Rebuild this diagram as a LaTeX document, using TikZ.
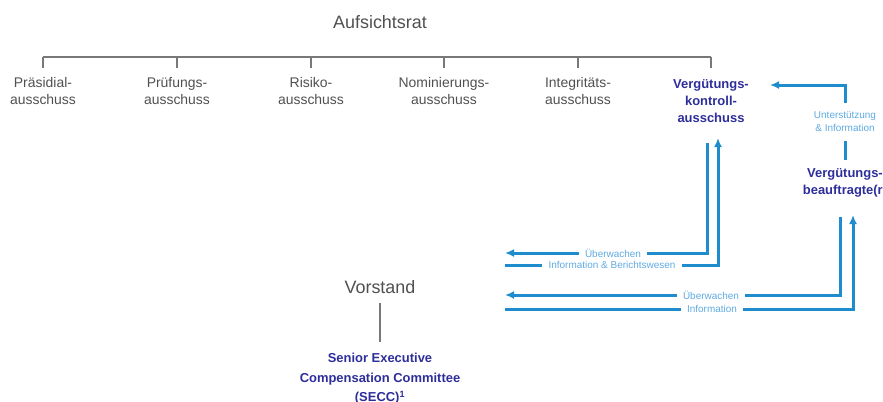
\documentclass[tikz,border=0pt]{standalone}
\usepackage{fontspec}
\setmainfont{Liberation Sans}
\usetikzlibrary{arrows.meta}

\definecolor{grautext}{RGB}{80,80,80}
\definecolor{linie}{RGB}{120,120,120}
\definecolor{pfeil}{RGB}{30,140,205}
\definecolor{hellblau}{RGB}{95,170,225}
\definecolor{dunkelblau}{RGB}{45,45,155}

\tikzset{
  gremium/.style={align=center, text=grautext, inner sep=0pt, outer ysep=9.5bp, font=\fontsize{14}{17}\selectfont},
  organ/.style={text=grautext, font=\fontsize{18}{20}\selectfont},
  blaugremium/.style={align=center, text=dunkelblau, font=\bfseries\fontsize{13}{17}\selectfont},
  hinweis/.style={align=center, text=hellblau, inner xsep=6bp, inner ysep=1bp, font=\fontsize{10}{13}\selectfont},
  baum/.style={draw=linie, line width=1.2bp},
  fluss/.style={draw=pfeil, line width=3bp},
  spitze/.style={fluss, -{Latex[length=9bp,width=8bp]}},
}

\begin{document}
\begin{tikzpicture}[x=1bp,y=-1bp]
        \useasboundingbox (0,0) rectangle (883,401);
        \clip (0,0) rectangle (883,401);

        \node[organ] (ar) at (380,22) {Aufsichtsrat};
        \coordinate (bar) at (43,57);
        \node[gremium,anchor=north] (praes) at (43,68) {Präsidial-\\ausschuss};
        \node[gremium,anchor=north] (pruef) at (177,68) {Prüfungs-\\ausschuss};
        \node[gremium,anchor=north] (risiko) at (311,68) {Risiko-\\ausschuss};
        \node[gremium,anchor=north] (nomin) at (444,68) {Nominierungs-\\ausschuss};
        \node[gremium,anchor=north] (integ) at (578,68) {Integritäts-\\ausschuss};
        \node[blaugremium,anchor=north,inner sep=0pt,outer ysep=12bp] (verg) at (711,68) {Vergütungs-\\kontroll-\\ausschuss};

        \draw[baum] (praes.north |- bar) -- (verg.north |- bar);
        \foreach \g in {praes,pruef,risiko,nomin,integ,verg}
          \draw[baum] (\g.north) -- (\g.north |- bar);

        \node[hinweis,outer ysep=8bp] (unt) at (845,122) {Unterstützung\\\& Information};
        \node[blaugremium,outer ysep=5bp] (vb) at (845,183) {Vergütungs-\\beauftragte(r)};
        \coordinate (vkein) at (770,85);
        \draw[spitze] (unt) |- (vkein);
        \draw[fluss] (unt) -- (vb);

        \coordinate (vk-a) at (707,143);
        \coordinate (vk-b) at (718,138);
        \coordinate (vb-a) at (840,217);
        \coordinate (vb-b) at (853,215);
        \coordinate (vs-a) at (505,253);
        \coordinate (vs-b) at (505,265);
        \coordinate (vs-c) at (505,295);
        \coordinate (vs-d) at (505,309);

        \node[hinweis] (ue1) at (613,253) {Überwachen};
        \node[hinweis] (ib) at (612,265) {Information \& Berichtswesen};
        \node[hinweis] (ue2) at (711,295) {Überwachen};
        \node[hinweis] (inf) at (712,309) {Information};

        \draw[spitze] (vk-a) |- (ue1) -- (vs-a);
        \draw[spitze] (vs-b) -- (ib) -| (vk-b);
        \draw[spitze] (vb-a) |- (ue2) -- (vs-c);
        \draw[spitze] (vs-d) -- (inf) -| (vb-b);

        \node[organ] (vst) at (380,287) {Vorstand};
        \node[blaugremium,anchor=north,font=\bfseries\fontsize{13}{19.5}\selectfont] (secc) at (380,350) {Senior Executive\\Compensation Committee\\(SECC)\textsuperscript{1}};
        \draw[baum,shorten <=6bp,shorten >=8bp] (vst) -- (secc);
\end{tikzpicture}
\end{document}
